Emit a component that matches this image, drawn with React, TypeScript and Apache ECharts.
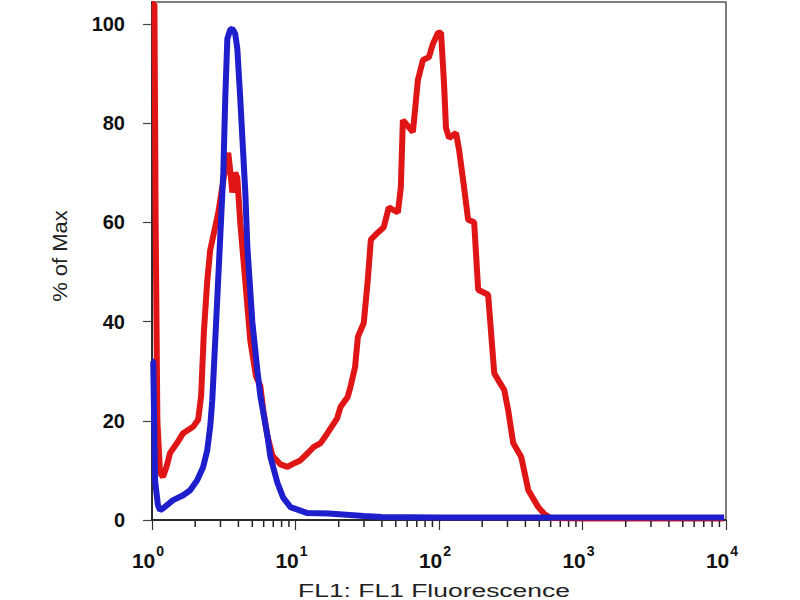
import React, { useEffect, useRef } from "react";
import * as echarts from "echarts";

// Red histogram (stained sample): [FL1 value, % of Max]
const redSeries: [number, number][] = [
  [1.0, 104], [1.04, 104], [1.06, 60], [1.09, 20], [1.137, 9.5], [1.194, 8.7],
  [1.27, 11], [1.336, 13.5], [1.495, 15.5], [1.647, 17.5], [1.934, 18.8],
  [2.097, 20.2], [2.2, 25], [2.3, 38], [2.424, 48], [2.544, 54.4], [2.9, 62],
  [3.24, 71], [3.4, 74], [3.55, 69], [3.63, 66], [3.8, 70], [3.93, 69],
  [4.12, 60], [4.47, 48], [4.85, 36], [5.3, 29], [5.69, 27], [5.97, 22],
  [6.37, 17], [6.9, 13], [7.86, 11.2], [8.79, 10.7], [9.9, 11.5], [10.8, 12],
  [12.2, 13.5], [13.36, 14.7], [14.95, 15.5], [16.7, 17.5], [19.5, 20.5],
  [20.6, 22.8], [23.1, 24.8], [24.24, 27], [26.0, 30.8], [27.2, 36.9],
  [29.9, 39.7], [31.9, 48.4], [33.5, 56.5], [37.4, 57.9], [41.2, 59],
  [44.7, 63], [48.0, 62.5], [51.7, 62], [54.2, 67], [56.0, 80.6], [65.8, 78.2],
  [71.3, 88.7], [77.3, 92.7], [85.1, 93.3], [90.8, 96], [98.4, 98.2],
  [103.3, 98.2], [108.4, 88], [111.9, 79], [117.5, 77], [131.5, 78],
  [138.0, 74.6], [149.6, 67], [159.6, 60.5], [175.8, 60], [187.5, 46.4],
  [220.0, 45.4], [242.6, 29.6], [258.7, 28.2], [285.0, 26.2], [304.0, 22],
  [329.0, 15.5], [374.0, 12.7], [419.0, 6], [492.0, 2.6], [542.0, 1.2],
  [600.0, 0.4], [1000.0, 0.3], [9700.0, 0.3],
];

// Blue histogram (control): [FL1 value, % of Max]
const blueSeries: [number, number][] = [
  [1.0, 32], [1.02, 32], [1.05, 8], [1.1, 3], [1.137, 2], [1.2, 2.4],
  [1.402, 4], [1.65, 5], [1.844, 6], [2.064, 8], [2.273, 10.7], [2.424, 14],
  [2.544, 18.8], [2.628, 24], [2.671, 28], [2.8, 40], [2.989, 57], [3.14, 70],
  [3.24, 85], [3.35, 97], [3.51, 98.8], [3.63, 99], [3.8, 98], [3.93, 95],
  [4.12, 85], [4.3, 75], [4.47, 66], [4.62, 55], [5.0, 40], [5.43, 30],
  [5.69, 25], [6.37, 17], [6.69, 12.7], [7.48, 7.5], [8.2, 4.5], [9.23, 2.6],
  [12.1, 1.4], [17.0, 1.3], [24.0, 1.0], [30.0, 0.8], [40.0, 0.6],
  [100.0, 0.5], [1000.0, 0.5], [9700.0, 0.5],
];

const yTickValues = [0, 20, 40, 60, 80, 100];
const decades = [1, 10, 100, 1000];
const mantissas = [2, 3, 4, 5, 6, 7, 8, 9];

const FONT = 'Arial, "Liberation Sans", Helvetica, sans-serif';

export default function App() {
  const ref = useRef<HTMLDivElement>(null);

  useEffect(() => {
    if (!ref.current) return;
    const chart = echarts.init(ref.current, undefined, { renderer: "svg" });

    const titleGraphics: any[] = [
      {
        type: "text",
        id: "xTitle",
        x: 434,
        y: 591,
        scaleX: 1.47,
        style: {
          text: "FL1: FL1 Fluorescence",
          fontSize: 18,
          fontFamily: FONT,
          fill: "#222",
          textAlign: "center",
          textVerticalAlign: "middle",
        },
      },
      {
        type: "text",
        id: "yTitle",
        x: 60,
        y: 256,
        rotation: Math.PI / 2,
        scaleX: 1.1,
        style: {
          text: "% of Max",
          fontSize: 20,
          fontFamily: FONT,
          fill: "#222",
          textAlign: "center",
          textVerticalAlign: "middle",
        },
      },
    ];

    chart.setOption({
      animation: false,
      backgroundColor: "#ffffff",
      grid: {
        left: 152,
        right: 74,
        top: 2,
        bottom: 80,
        show: true,
        borderColor: "#555",
        borderWidth: 1.5,
        backgroundColor: "transparent",
      },
      xAxis: {
        type: "log",
        logBase: 10,
        min: 1,
        max: 10000,
        axisLine: { show: true, lineStyle: { color: "#111", width: 1.5 } },
        axisTick: { show: true, length: 10, lineStyle: { color: "#333", width: 1.2 } },
        splitLine: { show: false },
        axisLabel: {
          margin: 24,
          color: "#111",
          fontFamily: FONT,
          formatter: (v: number) => {
            const e = Math.round(Math.log10(v));
            return `{b|10}{s|${e}}`;
          },
          rich: {
            b: { fontSize: 21, fontWeight: "bold", fontFamily: FONT, color: "#111", lineHeight: 32 },
            s: {
              fontSize: 14,
              fontWeight: "bold",
              fontFamily: FONT,
              color: "#111",
              verticalAlign: "top",
              padding: [0, 8, 0, 1],
            },
          },
        },
      },
      yAxis: {
        type: "value",
        min: 0,
        max: 104.4,
        interval: 20,
        axisLine: { show: true, lineStyle: { color: "#111", width: 1.5 } },
        axisTick: {
          show: true,
          length: 9,
          customValues: yTickValues,
          lineStyle: { color: "#444", width: 1.2 },
        },
        splitLine: { show: false },
        axisLabel: {
          customValues: yTickValues,
          margin: 27,
          fontSize: 20,
          fontWeight: "bold",
          fontFamily: FONT,
          color: "#111",
        },
      },
      graphic: titleGraphics,
      series: [
        {
          type: "line",
          name: "stained",
          data: redSeries,
          showSymbol: false,
          lineStyle: { color: "#e01515", width: 6 },
          z: 2,
        },
        {
          type: "line",
          name: "control",
          data: blueSeries,
          showSymbol: false,
          lineStyle: { color: "#1e1ecc", width: 6 },
          z: 3,
        },
      ],
    });

    // Minor log ticks, positioned through the x axis scale.
    const tickEls: any[] = [];
    decades.forEach((d) =>
      mantissas.forEach((m) => {
        const p = chart.convertToPixel({ xAxisIndex: 0, yAxisIndex: 0 }, [d * m, 0]) as number[];
        if (p && isFinite(p[0])) {
          tickEls.push({
            type: "line",
            z: 10,
            shape: { x1: p[0], y1: p[1] + 1, x2: p[0], y2: p[1] + 7 },
            style: { stroke: "#222", lineWidth: 1.5 },
            silent: true,
          });
        }
      })
    );
    chart.setOption({ graphic: [...titleGraphics, ...tickEls] });

    return () => chart.dispose();
  }, []);

  return (
    <div
      ref={ref}
      style={{ position: "absolute", left: 0, top: 0, width: 800, height: 600, background: "#fff" }}
    />
  );
}
